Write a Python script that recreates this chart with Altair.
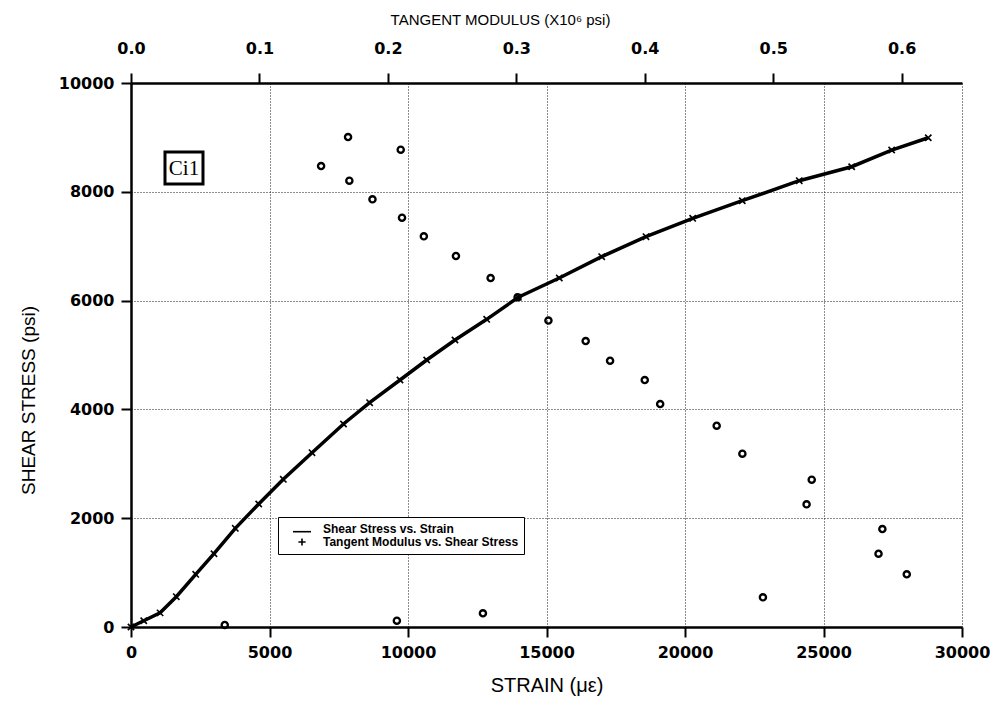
import altair as alt
import pandas as pd

# Shear stress vs strain curve (line with x markers)
strain = [0, 460, 1050, 1635, 2336, 2996, 3765, 4610, 5498, 6534, 7671, 8614, 9711,
          10675, 11696, 12841, 13982, 15462, 16993, 18592, 20277, 22068, 24125,
          26017, 27461, 28782]
stress = [0, 115, 260, 557, 969, 1347, 1814, 2261, 2715, 3204, 3732, 4123, 4540,
          4908, 5276, 5656, 6061, 6415, 6807, 7175, 7513, 7836, 8204,
          8461, 8768, 8994]

# Tangent modulus (x10^6 psi) vs shear stress (psi)
tan_mod = [0.148, 0.169, 0.170, 0.188, 0.210, 0.211, 0.228, 0.253, 0.280, 0.301,
           0.325, 0.354, 0.373, 0.400, 0.412, 0.456, 0.476, 0.530, 0.526, 0.585,
           0.582, 0.604, 0.492, 0.274, 0.207, 0.073]
tm_stress = [8474, 9007, 8204, 7862, 8774, 7524, 7182, 6820, 6415, 6061,
             5634, 5257, 4895, 4540, 4099, 3700, 3186, 2708, 2255, 1801,
             1347, 969, 546, 252, 116, 37]

legend_labels = ["Shear Stress vs. Strain", "Tangent Modulus vs. Shear Stress"]
ann_text = ["Ci1"]
ann_strain = [1913]
ann_stress = [8438]

curve = pd.DataFrame({"strain": strain, "stress": stress})
tm = pd.DataFrame({"tm": tan_mod, "stress": tm_stress})
leg = pd.DataFrame({"series": legend_labels})
ann = pd.DataFrame({"label": ann_text, "strain": ann_strain, "stress": ann_stress})

TICK_FONT = "DejaVu Sans"
grid_kw = dict(grid=True, gridColor="black", gridDash=[1, 2], gridWidth=1, gridOpacity=0.9)
common_axis = dict(domainColor="black", domainWidth=2.5, tickColor="black", tickWidth=2,
                   tickSize=10, labelFont=TICK_FONT, labelFontWeight="bold", labelFontSize=16,
                   labelColor="black", titleColor="black", titleFontWeight="normal",
                   labelOverlap=False)

x_bottom = alt.X("strain:Q", scale=alt.Scale(domain=[0, 30000], nice=False),
                 axis=alt.Axis(title="STRAIN (με)", values=list(range(0, 30001, 5000)),
                               format="d", labelFlush=False, labelPadding=7,
                               titleFont="Liberation Sans", titleFontSize=20, titlePadding=15,
                               **grid_kw, **common_axis))
y_left = alt.Y("stress:Q", scale=alt.Scale(domain=[0, 10000], nice=False),
               axis=alt.Axis(title="SHEAR STRESS (psi)", values=list(range(0, 10001, 2000)),
                             format="d", labelPadding=7, titleFont="Liberation Sans",
                             titleFontSize=19, titlePadding=20, titleY=317,
                             **grid_kw, **common_axis))

line = alt.Chart(curve).mark_line(color="black", strokeWidth=3.5).encode(x=x_bottom, y=y_left)
markers = alt.Chart(curve).mark_point(
    shape="M-1,-1L1,1M-1,1L1,-1", size=40, filled=False, color="black", strokeWidth=1.6,
    opacity=1).encode(x="strain:Q", y="stress:Q")

ci_box = alt.Chart(ann).mark_point(
    shape="M-1,-0.84L1,-0.84L1,0.84L-1,0.84Z", size=1444, filled=True, fill="white",
    stroke="black", strokeWidth=3, opacity=1).encode(x="strain:Q", y="stress:Q")
ci_text = alt.Chart(ann).mark_text(
    font="Liberation Serif", fontSize=21, color="black", baseline="middle", align="center",
    dy=1).encode(x="strain:Q", y="stress:Q", text="label:N")

inner = alt.layer(line, markers, ci_box, ci_text)

scatter = alt.Chart(tm).mark_point(
    shape="circle", size=38, filled=False, color="black", strokeWidth=2.4, opacity=1
).encode(
    x=alt.X("tm:Q", scale=alt.Scale(domain=[0, 0.647], nice=False),
            axis=alt.Axis(orient="top", title="TANGENT MODULUS (X10⁶ psi)",
                          values=[0, 0.1, 0.2, 0.3, 0.4, 0.5, 0.6], format=".1f",
                          grid=False, labelFlush=False, labelPadding=17,
                          titleFont="Liberation Sans", titleFontSize=15, titlePadding=13,
                          titleX=369, **common_axis)),
    y=alt.Y("stress:Q", scale=alt.Scale(domain=[0, 10000], nice=False)),
)

legend_layer = alt.Chart(leg).mark_point(filled=False, color="black", clip=True).encode(
    x=alt.value(-60), y=alt.value(-60),
    shape=alt.Shape("series:N",
                    scale=alt.Scale(domain=legend_labels,
                                    range=["M-1.5,0.45L1.5,0.45", "M-0.6,0L0.6,0M0,-0.6L0,0.6"]),
                    legend=alt.Legend(title=None, orient="none", legendX=147, legendY=434,
                                      strokeColor="black", fillColor="white", padding=5,
                                      labelFont="Liberation Sans", labelFontSize=12,
                                      labelFontWeight="bold", labelColor="black",
                                      labelLimit=400,
                                      symbolSize=144, symbolStrokeColor="black",
                                      symbolStrokeWidth=1.6, symbolOpacity=1,
                                      symbolOffset=12, labelOffset=14, rowPadding=0)),
)

chart = alt.layer(inner, scatter, legend_layer).resolve_scale(
    x="independent", y="shared"
).properties(
    width=831, height=544,
    autosize=alt.AutoSizeParams(type="none"),
    padding={"left": 123, "top": 75, "right": 30, "bottom": 72},
    background="white",
).configure_view(stroke=None)

chart.save("out.html", embed_options={"renderer": "svg", "actions": False})
